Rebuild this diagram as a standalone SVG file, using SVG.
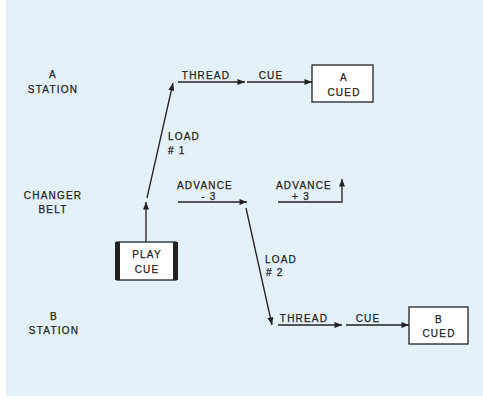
<svg xmlns="http://www.w3.org/2000/svg" width="483" height="400" viewBox="0 0 483 400">
<defs>
<style>
text{font-family:"Liberation Sans",Arial,sans-serif;font-size:10px;fill:#222;stroke:#222;stroke-width:0.25;letter-spacing:1.2px;text-anchor:middle}
.st{text-anchor:start}
.ln{stroke:#222;stroke-width:1.3;fill:none}
.box{fill:#fff;stroke:#222;stroke-width:1.3}
</style>
<marker id="ah" viewBox="0 0 10 8" refX="10" refY="4" markerWidth="8" markerHeight="6" markerUnits="userSpaceOnUse" orient="auto">
<path d="M0,0 L10,4 L0,8 Z" fill="#222"/>
</marker>
</defs>
<rect x="0" y="0" width="483" height="400" fill="#fff"/>
<rect x="6" y="0" width="477" height="396" fill="#e4f1f9"/>

<g id="labels">
<text x="53" y="78">A</text>
<text x="53" y="93">STATION</text>
<text x="53" y="199">CHANGER</text>
<text x="53" y="213">BELT</text>
<text x="54" y="320">B</text>
<text x="54" y="334">STATION</text>
</g>

<g id="connectors">
<line class="ln" x1="178" y1="82" x2="245" y2="82" marker-end="url(#ah)"/>
<line class="ln" x1="247" y1="82" x2="312" y2="82" marker-end="url(#ah)"/>
<line class="ln" x1="146" y1="242" x2="146" y2="202" marker-end="url(#ah)"/>
<line class="ln" x1="147" y1="198" x2="173" y2="83" marker-end="url(#ah)"/>
<line class="ln" x1="178" y1="202" x2="247" y2="202" marker-end="url(#ah)"/>
<polyline class="ln" points="278,202 342,202 342,179" marker-end="url(#ah)"/>
<line class="ln" x1="246" y1="208" x2="272" y2="325" marker-end="url(#ah)"/>
<line class="ln" x1="278" y1="325" x2="342" y2="325" marker-end="url(#ah)"/>
<line class="ln" x1="346" y1="325" x2="409" y2="325" marker-end="url(#ah)"/>
<text x="206" y="79">THREAD</text>
<text x="271" y="79">CUE</text>
<text class="st" x="168" y="140">LOAD</text>
<text class="st" x="168" y="154"># 1</text>
<text x="205" y="189">ADVANCE</text>
<text x="209" y="200">- 3</text>
<text x="304" y="189">ADVANCE</text>
<text x="301" y="200">+ 3</text>
<text class="st" x="265" y="263">LOAD</text>
<text class="st" x="266" y="276"># 2</text>
<text x="304" y="322">THREAD</text>
<text x="368" y="322">CUE</text>
</g>

<g id="node-a-cued">
<rect class="box" x="312" y="65" width="61" height="37"/>
<text x="344" y="81">A</text>
<text x="344" y="96">CUED</text>
</g>

<g id="node-play-cue">
<rect class="box" x="117" y="242" width="59" height="38"/>
<rect x="115" y="242" width="5" height="38" fill="#222"/>
<rect x="173" y="242" width="5" height="38" fill="#222"/>
<text x="147" y="258">PLAY</text>
<text x="147" y="273">CUE</text>
</g>

<g id="node-b-cued">
<rect class="box" x="409" y="307" width="59" height="37"/>
<text x="439" y="323">B</text>
<text x="439" y="337">CUED</text>
</g>
</svg>
